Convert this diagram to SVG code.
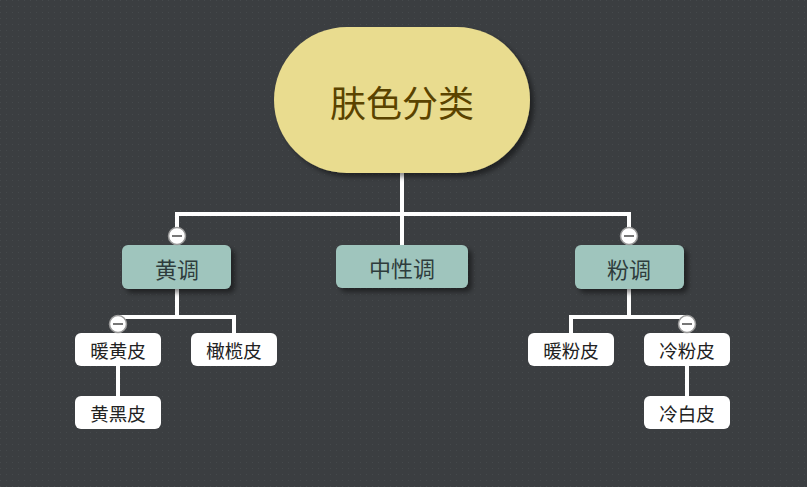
<svg xmlns="http://www.w3.org/2000/svg" width="807" height="487" viewBox="0 0 807 487">
<defs>
<pattern id="dots" width="6" height="6" patternUnits="userSpaceOnUse">
<rect width="6" height="6" fill="#3b3e41"/>
<rect x="0" y="0" width="1" height="1" fill="#45494c"/>
</pattern>
<filter id="sh" x="-20%" y="-20%" width="150%" height="160%">
<feDropShadow dx="4" dy="4" stdDeviation="2.5" flood-color="#000" flood-opacity="0.45"/>
</filter>
<g id="minus">
<circle r="8.5" fill="#ffffff" stroke="#9a9a9a" stroke-width="1.5"/>
<line x1="-5" y1="0" x2="5" y2="0" stroke="#555" stroke-width="1.6"/>
</g>
</defs>
<style>
.root{fill:#e9dc8f}
.l1{fill:#9fc5bd}
.l2{fill:#ffffff}
.conn{stroke:#ffffff;stroke-width:4;fill:none}
text{font-family:"Noto Sans CJK SC","Noto Sans",sans-serif;text-anchor:middle;dominant-baseline:central}
.t0{font-size:36px;fill:#5a4300}
.t1{font-size:22px;fill:#2e3c3c}
.t2{font-size:18.5px;fill:#222222}
</style>
<rect width="807" height="487" fill="url(#dots)"/>
<g id="connectors" class="conn">
<path d="M402 173 V214 M177 214 H629 M177 212 V245 M402 214 V245 M629 212 V245"/>
<path d="M177 289 V317 M118 317 H234 M118 315 V333 M234 315 V333 M118 366 V396"/>
<path d="M629 289 V317 M571 317 H687 M571 315 V333 M687 315 V333 M687 366 V396"/>
</g>
<g id="node-root">
<rect class="root" x="274" y="27" width="256" height="146" rx="73" filter="url(#sh)"/>
<text class="t0" x="402" y="101">肤色分类</text>
</g>
<g id="node-huang">
<rect class="l1" x="122" y="245" width="109" height="44" rx="6" filter="url(#sh)"/>
<text class="t1" x="177" y="268">黄调</text>
<use href="#minus" x="177" y="236"/>
</g>
<g id="node-zhongxing">
<rect class="l1" x="336" y="245" width="132" height="43" rx="6" filter="url(#sh)"/>
<text class="t1" x="402" y="267">中性调</text>
</g>
<g id="node-fen">
<rect class="l1" x="575" y="245" width="109" height="44" rx="6" filter="url(#sh)"/>
<text class="t1" x="629" y="268">粉调</text>
<use href="#minus" x="629" y="236"/>
</g>
<g id="node-nuanhuang">
<rect class="l2" x="75" y="333" width="86" height="33" rx="6"/>
<text class="t2" x="118" y="350">暖黄皮</text>
<use href="#minus" x="118" y="324"/>
</g>
<g id="node-ganlan">
<rect class="l2" x="191" y="333" width="86" height="33" rx="6"/>
<text class="t2" x="234" y="350">橄榄皮</text>
</g>
<g id="node-huanghei">
<rect class="l2" x="75" y="396" width="86" height="33" rx="6"/>
<text class="t2" x="118" y="413">黄黑皮</text>
</g>
<g id="node-nuanfen">
<rect class="l2" x="528" y="333" width="86" height="33" rx="6"/>
<text class="t2" x="571" y="350">暖粉皮</text>
</g>
<g id="node-lengfen">
<rect class="l2" x="644" y="333" width="86" height="33" rx="6"/>
<text class="t2" x="687" y="350">冷粉皮</text>
<use href="#minus" x="687" y="324"/>
</g>
<g id="node-lengbai">
<rect class="l2" x="644" y="396" width="86" height="33" rx="6"/>
<text class="t2" x="687" y="413">冷白皮</text>
</g>
</svg>
